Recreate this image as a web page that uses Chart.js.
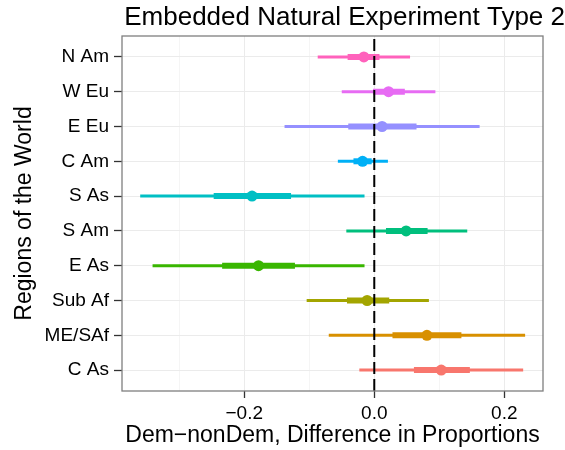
<!DOCTYPE html>
<html>
<head>
<meta charset="utf-8">
<script src="https://cdn.jsdelivr.net/npm/chart.js@4.4.1/dist/chart.umd.min.js"></script>
<style>
  html, body { margin: 0; padding: 0; background: #fff; }
  #wrap { width: 565px; height: 450px; position: relative; }
</style>
</head>
<body>
<div id="wrap"><canvas id="coefPlot"></canvas></div>
<script>
// regions, bottom row first
const regions = ['C As', 'ME/SAf', 'Sub Af', 'E As', 'S Am', 'S As', 'C Am', 'E Eu', 'W Eu', 'N Am']
const estimate = [0.103, 0.081, -0.011, -0.178, 0.049, -0.188, -0.018, 0.012, 0.022, -0.016]
const lowInner = [0.061, 0.028, -0.042, -0.234, 0.018, -0.247, -0.032, -0.040, -0.002, -0.041]
const highInner = [0.147, 0.134, 0.023, -0.122, 0.082, -0.128, -0.004, 0.065, 0.047, 0.008]
const lowOuter = [-0.023, -0.070, -0.104, -0.341, -0.043, -0.360, -0.056, -0.138, -0.050, -0.087]
const highOuter = [0.229, 0.232, 0.084, -0.015, 0.143, -0.015, 0.021, 0.162, 0.094, 0.055]
const xMajor = [-0.2, 0, 0.2]
const xMinor = [-0.3, -0.1, 0.1]

const colors = ['#F8766D', '#D89000', '#A3A500', '#39B600', '#00BF7D',
                '#00BFC4', '#00B0F6', '#9590FF', '#E76BF3', '#FF62BC']
const font = "'Liberation Sans', Arial, Helvetica, sans-serif"

const xMin = -0.388
const xMax = 0.2595
const yMin = 0.4
const yMax = regions.length + 0.6

let datasets = []

// dashed line at zero, kept first so it sits on top
datasets.push({
  data: [{x: 0, y: yMin}, {x: 0, y: yMax}],
  showLine: true,
  borderColor: '#000',
  borderWidth: 2,
  borderDash: [12, 5],
  pointRadius: 0
})

regions.forEach((r, i) => {
  let y = i + 1
  datasets.push({
    label: r,
    data: [{x: estimate[i], y: y}],
    pointRadius: 5.5,
    pointBackgroundColor: colors[i],
    pointBorderWidth: 0,
    showLine: false
  })
  datasets.push({
    data: [{x: lowInner[i], y: y}, {x: highInner[i], y: y}],
    showLine: true,
    borderColor: colors[i],
    borderWidth: 6,
    borderCapStyle: 'butt',
    pointRadius: 0
  })
  datasets.push({
    data: [{x: lowOuter[i], y: y}, {x: highOuter[i], y: y}],
    showLine: true,
    borderColor: colors[i],
    borderWidth: 3,
    borderCapStyle: 'butt',
    pointRadius: 0
  })
})

// grey frame round the plotting panel
const panelBorder = {
  id: 'panelBorder',
  afterDatasetsDraw(chart) {
    const a = chart.chartArea
    const ctx = chart.ctx
    ctx.save()
    ctx.strokeStyle = '#7F7F7F'
    ctx.lineWidth = 1.3
    ctx.strokeRect(a.left, a.top, a.right - a.left, a.bottom - a.top)
    ctx.restore()
  }
}

const isMajor = v => xMajor.some(m => Math.abs(m - v) < 1e-9)

new Chart(document.getElementById('coefPlot'), {
  type: 'scatter',
  data: {datasets: datasets},
  plugins: [panelBorder],
  options: {
    responsive: true,
    maintainAspectRatio: false,
    animation: false,
    layout: {padding: 0},
    plugins: {
      legend: {display: false},
      tooltip: {enabled: false},
      title: {
        display: true,
        text: 'Embedded Natural Experiment Type 2',
        align: 'end',
        color: '#000',
        font: {family: font, size: 26, weight: 'normal'},
        padding: {top: 2, bottom: 2.8}
      }
    },
    scales: {
      x: {
        type: 'linear',
        min: xMin,
        max: xMax,
        afterBuildTicks: s => { s.ticks = xMinor.concat(xMajor).sort((a, b) => a - b).map(v => ({value: v})) },
        afterFit: s => { s.height = 59 },
        border: {display: false},
        grid: {
          color: c => isMajor(c.tick.value) ? '#EBEBEB' : '#F5F5F5',
          tickColor: c => isMajor(c.tick.value) ? '#333' : 'rgba(0,0,0,0)',
          tickLength: 7,
          tickWidth: 1.3
        },
        ticks: {
          color: '#000',
          font: {family: font, size: 19},
          padding: 4,
          maxRotation: 0,
          autoSkip: false,
          callback: v => isMajor(v) ? v.toFixed(1).replace('-', '\u2212') : ''
        },
        title: {
          display: true,
          text: 'Dem\u2212nonDem, Difference in Proportions',
          color: '#000',
          font: {family: font, size: 23},
          padding: {top: 0, bottom: 1}
        }
      },
      y: {
        type: 'linear',
        min: yMin,
        max: yMax,
        afterBuildTicks: s => { s.ticks = regions.map((r, i) => ({value: i + 1})) },
        afterFit: s => { s.width = 122 },
        border: {display: false},
        grid: {
          color: '#EBEBEB',
          tickColor: '#333',
          tickLength: 8,
          tickWidth: 1.3
        },
        ticks: {
          color: '#000',
          font: {family: font, size: 19},
          padding: 5,
          autoSkip: false,
          callback: v => regions[v - 1]
        },
        title: {
          display: true,
          text: 'Regions of the World',
          color: '#000',
          font: {family: font, size: 23},
          padding: {top: 11, bottom: 0}
        }
      },
      // empty strip on the right of the panel
      spacer: {
        type: 'linear',
        position: 'right',
        afterFit: s => { s.width = 22 },
        border: {display: false},
        grid: {display: false},
        ticks: {display: false}
      }
    }
  }
})
</script>
</body>
</html>
